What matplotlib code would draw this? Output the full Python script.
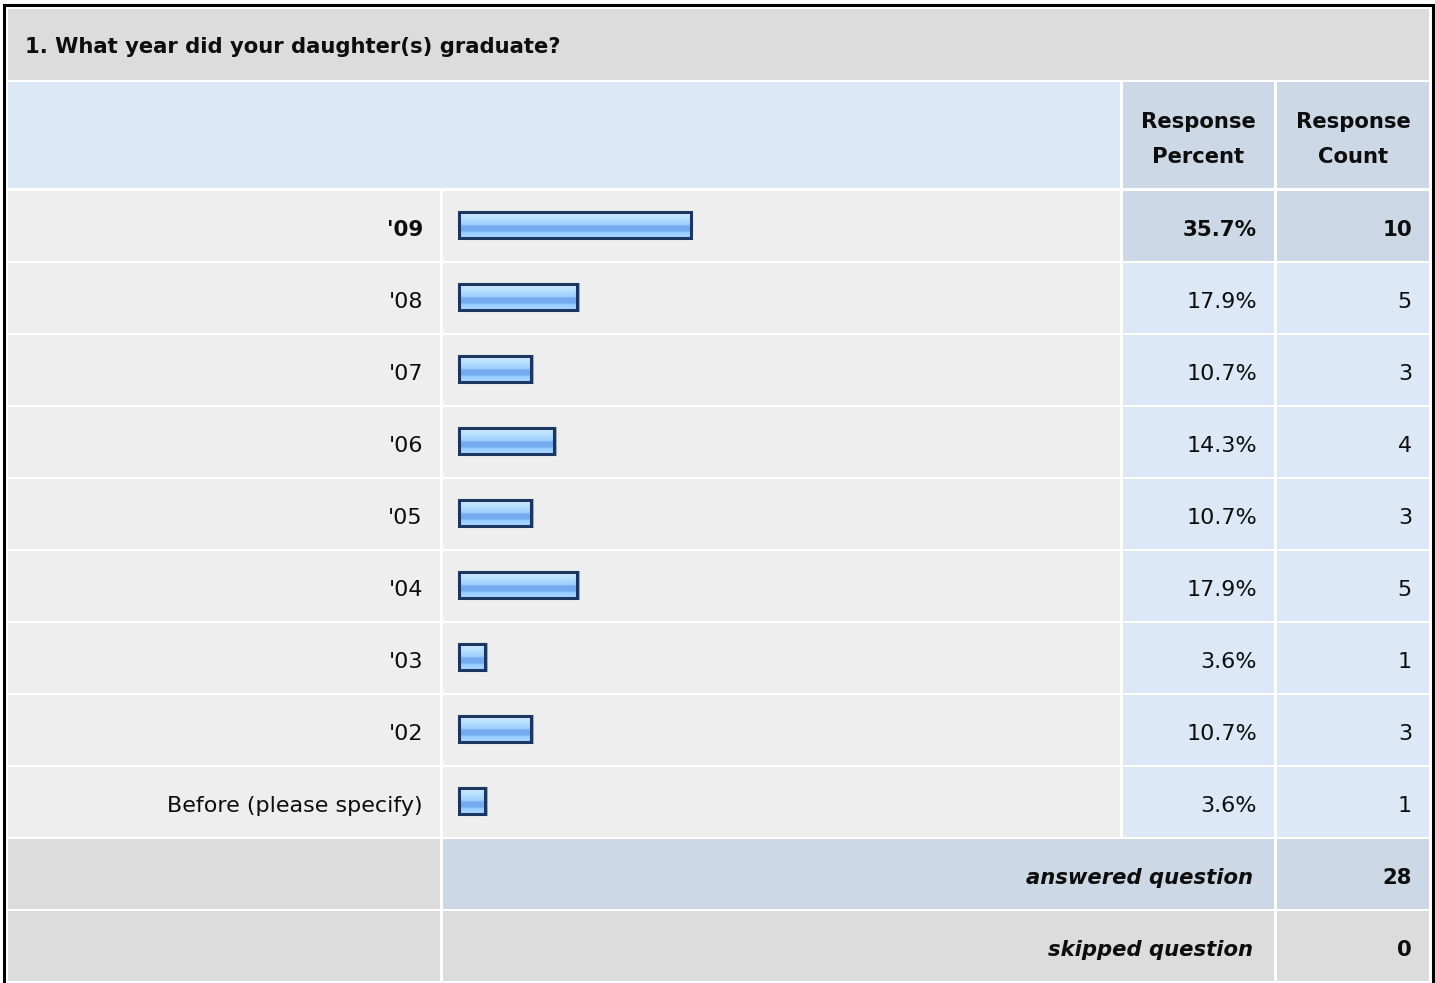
import numpy as np
import matplotlib
matplotlib.use("Agg")
import matplotlib.pyplot as plt
from matplotlib.patches import Rectangle
from matplotlib.colors import LinearSegmentedColormap

# ---- data -------------------------------------------------------------
title = "1. What year did your daughter(s) graduate?"
categories = ["'09", "'08", "'07", "'06", "'05", "'04", "'03", "'02",
              "Before (please specify)"]
percents = [35.7, 17.9, 10.7, 14.3, 10.7, 17.9, 3.6, 10.7, 3.6]
counts = [10, 5, 3, 4, 3, 5, 1, 3, 1]
answered = 28
skipped = 0

# ---- layout (pixels) --------------------------------------------------
W, H = 1435, 983
GRAY = "#dcdcdc"
ROWBG = "#eeeeee"
LBLUE = "#dce8f5"
MBLUE = "#cdd8e6"
INK = "#0d0d0d"

col_lbl = (8, 440)
col_bar = (443, 1120)
col_pct = (1123, 1274)
col_cnt = (1277, 1429)
title_row = (9, 80)
head_row = (82, 188)
row0 = 191
pitch = 72
rh = 70

plt.rcParams["font.family"] = ["DejaVu Sans"]

fig = plt.figure(figsize=(W / 100, H / 100), dpi=100)
fig.patch.set_facecolor("white")
ax = fig.add_axes([0, 0, 1, 1])
ax.set_xlim(0, W)
ax.set_ylim(H, 0)
ax.axis("off")


def cell(x, y, color):
    ax.add_patch(Rectangle((x[0], y[0]), x[1] - x[0], y[1] - y[0],
                           facecolor=color, edgecolor="none", zorder=1))


# outer border
ax.plot([3.5, 3.5, 1432.5, 1432.5], [H + 5, 5, 5, H + 5],
        color="black", lw=2.2, solid_joinstyle="miter", zorder=5)

# title
cell((col_lbl[0], col_cnt[1]), title_row, GRAY)
ax.text(25, 53, title, fontsize=15.2, fontweight="bold", ha="left",
        va="baseline", color=INK, zorder=3)

# header
cell((col_lbl[0], col_bar[1]), head_row, LBLUE)
cell(col_pct, head_row, MBLUE)
cell(col_cnt, head_row, MBLUE)
for col, word in [(col_pct, "Percent"), (col_cnt, "Count")]:
    cx = (col[0] + col[1]) / 2
    ax.text(cx, 128, "Response", fontsize=15.2, fontweight="bold",
            ha="center", va="baseline", color=INK, zorder=3)
    ax.text(cx, 163, word, fontsize=15.2, fontweight="bold",
            ha="center", va="baseline", color=INK, zorder=3)

# data rows
top = int(np.argmax(counts))
for i, (cat, p, c) in enumerate(zip(categories, percents, counts)):
    y0 = row0 + pitch * i
    yr = (y0, y0 + rh)
    cell(col_lbl, yr, ROWBG)
    cell(col_bar, yr, ROWBG)
    vb = MBLUE if i == top else LBLUE
    cell(col_pct, yr, vb)
    cell(col_cnt, yr, vb)
    bl = y0 + rh / 2 + 9.5
    if i == top:
        kw = dict(fontsize=15.4, fontweight="bold")
    else:
        kw = dict(fontsize=16)
    ax.text(423, bl, cat, ha="right", va="baseline", color=INK,
            zorder=3, **kw)
    ax.text(col_pct[1] - 17, bl, f"{p:.1f}%", ha="right", va="baseline",
            color=INK, zorder=3, **kw)
    ax.text(col_cnt[1] - 17, bl, str(c), ha="right", va="baseline",
            color=INK, zorder=3, **kw)

# footer rows
yf1 = row0 + pitch * len(categories)
yf2 = yf1 + pitch
cell(col_lbl, (yf1, yf1 + rh), GRAY)
cell((col_bar[0], col_pct[1]), (yf1, yf1 + rh), MBLUE)
cell(col_cnt, (yf1, yf1 + rh), MBLUE)
cell(col_lbl, (yf2, yf2 + rh), GRAY)
cell((col_bar[0], col_pct[1]), (yf2, yf2 + rh), GRAY)
cell(col_cnt, (yf2, yf2 + rh), GRAY)
for yf, lbl, val in [(yf1, "answered question", answered),
                     (yf2, "skipped question", skipped)]:
    bl = yf + rh / 2 + 10
    ax.text(1253, bl, lbl, fontsize=15.2, fontweight="bold", style="italic",
            ha="right", va="baseline", color=INK, zorder=3)
    ax.text(col_cnt[1] - 17, bl, str(val), fontsize=15.2, fontweight="bold",
            ha="right", va="baseline", color=INK, zorder=3)

# ---- bars -------------------------------------------------------------
n = len(categories)
bax = fig.add_axes([col_bar[0] / W, 1 - (row0 - 1 + pitch * n) / H,
                    (col_bar[1] - col_bar[0]) / W, pitch * n / H])
XL = (-3.05, 102.9)
bax.set_xlim(*XL)
bax.set_ylim(n - 0.5, -0.5)
bax.axis("off")
bax.patch.set_alpha(0)

grad = LinearSegmentedColormap.from_list("bar", [
    (0.0, "#d6edff"), (0.2, "#bce0ff"), (0.42, "#a4d3ff"),
    (0.5, "#98ccff"), (0.53, "#76abef"), (0.75, "#76abef"),
    (0.78, "#96cbff"), (1.0, "#acd9ff")])
g = np.linspace(0, 1, 64).reshape(-1, 1)

bh = 0.36
pad = 0.47
yc = np.arange(n) - 0.02
widths = np.array(percents) + pad
# soft drop shadow
bax.barh(yc + 0.012, widths, left=-pad + 0.12, height=bh,
         facecolor="none", edgecolor="#4a5f7d", alpha=0.45,
         linewidth=2.2, zorder=1.5)
for y, w in zip(yc, widths):
    bax.imshow(g, cmap=grad, aspect="auto", interpolation="bilinear",
               extent=(-pad, w - pad, y + bh / 2, y - bh / 2), zorder=2)
bax.barh(yc, widths, left=-pad, height=bh,
         facecolor="none", edgecolor="#1b3660", linewidth=2.2, zorder=3)
bax.set_xlim(*XL)
bax.set_ylim(n - 0.5, -0.5)

fig.savefig("out.png", dpi=100, facecolor="white")
